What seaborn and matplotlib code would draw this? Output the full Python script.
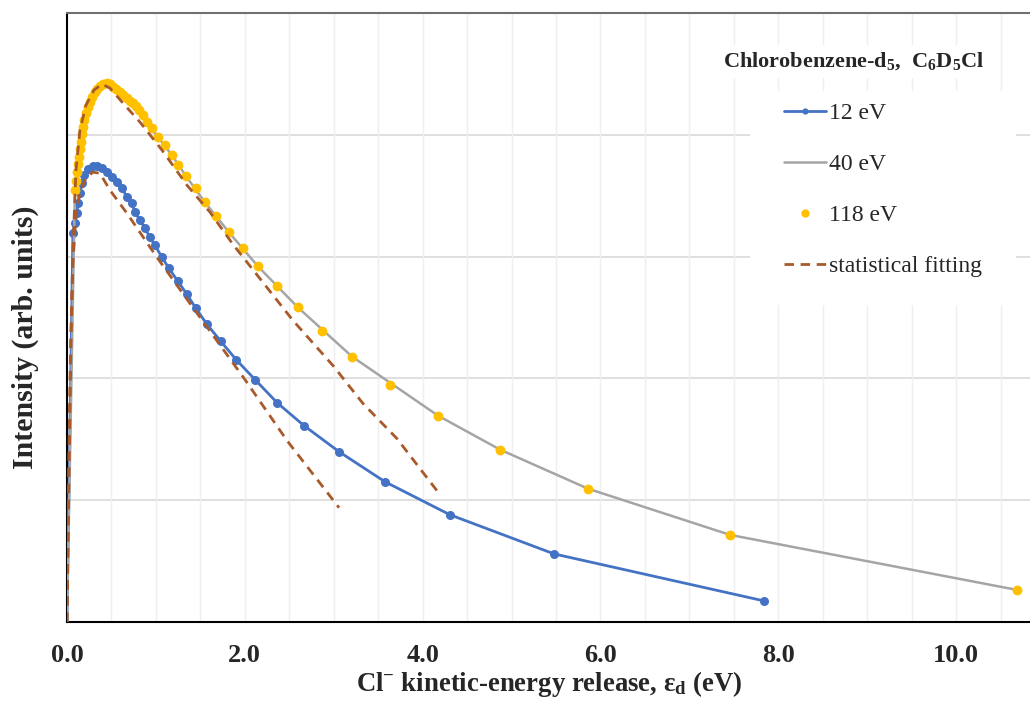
import numpy as np
import pandas as pd
import matplotlib
matplotlib.use("Agg")
import matplotlib.pyplot as plt
from matplotlib.lines import Line2D
from matplotlib.patches import Rectangle
import seaborn as sns

# ---------------- data ----------------
x_12 = [0.0, 0.067, 0.090, 0.112, 0.124, 0.146, 0.169, 0.191, 0.236, 0.292, 0.337,
        0.394, 0.450, 0.506, 0.562, 0.619, 0.675, 0.731, 0.765, 0.821, 0.877, 0.934,
        0.990, 1.069, 1.147, 1.249, 1.350, 1.451, 1.575, 1.732, 1.901, 2.115, 2.362,
        2.666, 3.060, 3.577, 4.308, 5.478, 7.840]
y_12 = [0.0, 3.191, 3.273, 3.355, 3.438, 3.520, 3.602, 3.668, 3.717, 3.742, 3.742,
        3.725, 3.693, 3.651, 3.610, 3.561, 3.487, 3.438, 3.364, 3.298, 3.232, 3.158,
        3.092, 2.994, 2.903, 2.796, 2.689, 2.574, 2.443, 2.303, 2.155, 1.990, 1.801,
        1.612, 1.398, 1.151, 0.880, 0.559, 0.173]

x_40 = [0.0, 0.090, 0.112, 0.135, 0.157, 0.180, 0.214, 0.259, 0.315, 0.371, 0.450,
        0.517, 0.596, 0.675, 0.742, 0.810, 0.900, 1.024, 1.181, 1.339, 1.552, 1.822,
        2.149, 2.598, 3.206, 4.173, 4.871, 5.861, 7.458, 10.686]
y_40 = [0.0, 3.545, 3.692, 3.816, 3.939, 4.063, 4.178, 4.268, 4.350, 4.400, 4.424,
        4.392, 4.350, 4.301, 4.260, 4.202, 4.104, 3.980, 3.832, 3.660, 3.446, 3.199,
        2.919, 2.582, 2.179, 1.694, 1.415, 1.094, 0.715, 0.263]

x_118 = [0.090, 0.101, 0.112, 0.124, 0.135, 0.146, 0.157, 0.169, 0.180, 0.191, 0.214,
         0.236, 0.259, 0.281, 0.315, 0.337, 0.371, 0.405, 0.450, 0.484, 0.517, 0.551,
         0.596, 0.630, 0.675, 0.709, 0.742, 0.776, 0.810, 0.855, 0.900, 0.956, 1.024,
         1.102, 1.181, 1.249, 1.339, 1.451, 1.552, 1.676, 1.822, 1.980, 2.149, 2.362,
         2.598, 2.868, 3.206, 3.633, 4.173, 4.871, 5.861, 7.458, 10.686]
y_118 = [3.545, 3.618, 3.692, 3.758, 3.816, 3.882, 3.939, 4.005, 4.063, 4.120, 4.178,
         4.227, 4.268, 4.309, 4.350, 4.375, 4.400, 4.416, 4.424, 4.416, 4.392, 4.375,
         4.350, 4.326, 4.301, 4.276, 4.260, 4.235, 4.202, 4.161, 4.104, 4.054, 3.980,
         3.915, 3.832, 3.750, 3.660, 3.561, 3.446, 3.331, 3.199, 3.068, 2.919, 2.755,
         2.582, 2.393, 2.179, 1.949, 1.694, 1.415, 1.094, 0.715, 0.263]

x_fit12 = [0.0, 0.022, 0.045, 0.067, 0.101, 0.146, 0.214, 0.292, 0.371, 0.484, 0.675,
           1.012, 1.384, 2.002, 2.475, 3.060]
y_fit12 = [0.0, 1.160, 2.311, 2.952, 3.339, 3.528, 3.643, 3.693, 3.684, 3.545, 3.355,
           2.994, 2.615, 1.990, 1.489, 0.938]

x_fit118 = [0.0, 0.022, 0.045, 0.067, 0.101, 0.146, 0.214, 0.304, 0.394, 0.484, 0.630,
            0.821, 1.069, 1.350, 1.609, 1.867, 2.542, 2.992, 3.330, 3.712, 4.162]
y_fit118 = [0.0, 1.406, 2.393, 3.051, 3.709, 4.038, 4.244, 4.367, 4.416, 4.383, 4.260,
            4.104, 3.874, 3.586, 3.364, 3.100, 2.475, 2.105, 1.793, 1.505, 1.077]

x_tick_labels = ["0.0", "2.0", "4.0", "6.0", "8.0", "10.0"]
legend_labels = ["12 eV", "40 eV", "118 eV", "statistical fitting"]
legend_title = "Chlorobenzene-d$_5$,  C$_6$D$_5$Cl"
x_label = "Cl$^{-}$ kinetic-energy release, ε$_d$ (eV)"
y_label = "Intensity (arb. units)"

# ---------------- style ----------------
sns.set_theme(style="white")
plt.rcParams["font.family"] = ["Liberation Serif", "DejaVu Serif"]
plt.rcParams["mathtext.default"] = "regular"

C_BLUE = "#4472C4"
C_GRAY = "#A5A5A5"
C_YEL = "#FFC000"
C_FIT = "#A85A2A"
DASH = (0, (3.4, 2.4))

fig = plt.figure(figsize=(10.30, 7.01), dpi=100)
ax = fig.add_axes([0.065, 0.1127, 0.935, 0.8688])

df12 = pd.DataFrame({"x": x_12, "y": y_12})
df40 = pd.DataFrame({"x": x_40, "y": y_40})
df118 = pd.DataFrame({"x": x_118, "y": y_118})
dff12 = pd.DataFrame({"x": x_fit12, "y": y_fit12})
dff118 = pd.DataFrame({"x": x_fit118, "y": y_fit118})

sns.lineplot(data=df12, x="x", y="y", ax=ax, sort=False, estimator=None,
             color=C_BLUE, lw=2.0, marker="o", markersize=6.5, markeredgewidth=0,
             markevery=list(range(1, len(x_12))), zorder=3)
sns.lineplot(data=df40, x="x", y="y", ax=ax, sort=False, estimator=None,
             color=C_GRAY, lw=1.8, zorder=4)
sns.scatterplot(data=df118, x="x", y="y", ax=ax, color=C_YEL, s=50,
                linewidth=0, zorder=5)
sns.lineplot(data=dff12, x="x", y="y", ax=ax, sort=False, estimator=None,
             color=C_FIT, lw=2.0, dashes=False, zorder=6)
sns.lineplot(data=dff118, x="x", y="y", ax=ax, sort=False, estimator=None,
             color=C_FIT, lw=2.0, dashes=False, zorder=6)
for ln in ax.lines[-2:]:
    ln.set_linestyle(DASH)

ax.set_xlim(0, 10.83)
ax.set_ylim(0, 5.0)

# grid
xt = np.arange(0, 10.83, 0.5)
ax.set_xticks(xt)
ax.set_xticklabels([x_tick_labels[i // 4] if i % 4 == 0 else "" for i in range(len(xt))])
ax.set_yticks([1, 2, 3, 4])
ax.set_yticklabels([])
ax.grid(False)
for yv in [1, 2, 3, 4]:
    ax.axhline(yv, color="#D9D9D9", lw=1.2, zorder=0)
for xv in xt[1:]:
    ax.axvline(xv, color="#EFEFEF", lw=1.0, zorder=0)

ax.tick_params(axis="x", direction="out", length=5, width=1.2, color="#404040",
               pad=11, labelsize=19)
ax.tick_params(axis="y", length=0)
for lab in ax.get_xticklabels():
    lab.set_fontweight("bold")

for side in ["left", "bottom"]:
    ax.spines[side].set_color("black")
    ax.spines[side].set_linewidth(1.5)
ax.spines["top"].set_color("#707070")
ax.spines["top"].set_linewidth(1.5)
ax.spines["right"].set_visible(False)

ax.set_xlabel(x_label, fontsize=19.3, fontweight="bold")
ax.set_ylabel(y_label, fontsize=21.5, fontweight="bold")
ax.xaxis.set_label_coords(0.5005, -0.077)
ax.yaxis.set_label_coords(-0.029, 0.468)

# legend box + title
ax.add_patch(Rectangle((0.709, 0.52), 0.276, 0.352, transform=ax.transAxes,
                       facecolor="white", edgecolor="none", zorder=7))
ax.text(0.817, 0.921, legend_title, transform=ax.transAxes, ha="center",
        va="center", fontsize=16, fontweight="bold", zorder=8,
        bbox=dict(facecolor="white", edgecolor="none", pad=4))

handles = [
    Line2D([], [], color=C_BLUE, lw=2.0, marker="o", markersize=4.5, markeredgewidth=0),
    Line2D([], [], color=C_GRAY, lw=1.8),
    Line2D([], [], color=C_YEL, lw=0, marker="o", markersize=6, markeredgewidth=0),
    Line2D([], [], color=C_FIT, lw=2.0, linestyle=DASH),
]
leg = ax.legend(handles, legend_labels, loc="upper left",
                bbox_to_anchor=(0.745, 0.853), frameon=False, borderpad=0,
                borderaxespad=0, fontsize=17, handlelength=1.75,
                handletextpad=0.12, labelspacing=1.25)
leg.set_zorder(9)

fig.savefig("out.png", dpi=100)
